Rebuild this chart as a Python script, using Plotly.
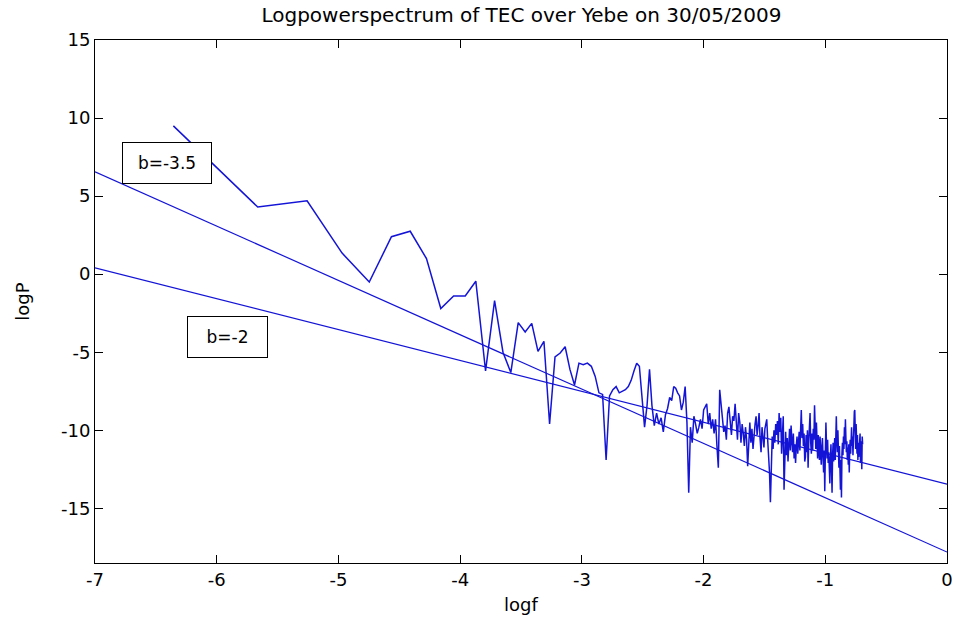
import numpy as np
import plotly.graph_objects as go

# ---- data -------------------------------------------------------------
# spectrum: FFT frequency index k = 1..288 of a 576-sample record
freq_index = list(range(1, 289))
record_length = 576

logP = [
    9.5, 4.3, 4.7, 1.35, -0.5, 2.4, 2.75, 1.0, -2.2, -1.4,
    -1.4, -0.45, -6.2, -1.7, -5.0, -6.3, -3.1, -3.7, -3.15, -4.95,
    -4.3, -9.6, -5.3, -5.05, -4.65, -6.1, -7.1, -5.7, -5.8, -5.7,
    -5.9, -6.55, -7.6, -7.7, -11.9, -7.8, -7.4, -7.2, -7.6, -7.5,
    -7.4, -7.2, -6.8, -6.2, -5.7, -5.9, -8.0, -9.8, -8.4, -6.1,
    -8.4, -9.7, -8.9, -9.6, -9.2, -10.1, -9.0, -8.6, -7.9, -8.1,
    -7.2, -7.3, -7.6, -7.8, -8.7, -8.2, -7.2, -9.5, -14.0, -9.8,
    -10.8, -9.1, -9.6, -10.2, -9.8, -9.3, -9.9, -8.7, -8.5, -8.3,
    -9.6, -8.9, -9.9, -9.3, -10.2, -9.3, -11.0, -12.4, -7.4, -8.6,
    -9.2, -10.1, -9.7, -10.6, -8.9, -8.5, -9.6, -10.3, -9.1, -9.4,
    -8.3, -9.8, -10.6, -8.9, -9.5, -10.8, -9.6, -10.2, -11.0, -9.8,
    -10.6, -12.3, -10.4, -9.5, -10.8, -9.9, -11.2, -10.1, -9.6, -9.1,
    -10.3, -9.7, -8.9, -10.5, -11.4, -9.8, -10.7, -11.1, -9.9, -9.5,
    -9.3, -10.6, -11.5, -12.7, -14.6, -11.8, -10.4, -11.2, -10.0, -10.8,
    -9.6, -10.3, -9.4, -10.9, -8.9, -10.1, -9.2, -11.5, -10.4, -9.1,
    -13.8, -11.2, -10.1, -11.6, -10.5, -12.0, -10.8, -9.9, -11.3, -9.7,
    -10.6, -11.4, -10.2, -11.8, -10.9, -12.1, -11.0, -10.4, -11.5, -10.8,
    -10.1, -11.3, -9.8, -8.7, -10.5, -9.6, -11.0, -10.2, -12.0, -11.7,
    -10.3, -11.4, -10.0, -12.4, -10.7, -9.6, -8.9, -10.8, -11.5, -10.2,
    -11.3, -9.9, -10.6, -8.4, -10.1, -11.2, -9.5, -10.7, -11.8, -10.3,
    -11.0, -11.9, -10.4, -11.6, -12.2, -11.1, -10.5, -11.7, -12.7, -11.3,
    -13.9, -11.5, -9.5, -10.9, -11.8, -10.6, -12.1, -11.4, -12.5, -13.4,
    -11.8, -10.9, -12.3, -14.0, -11.6, -10.8, -12.0, -11.2, -10.5, -11.9,
    -10.3, -9.1, -10.6, -11.4, -10.0, -11.7, -12.4, -11.0, -12.9, -13.8,
    -11.9, -14.3, -11.5, -10.8, -11.6, -10.4, -11.2, -9.8, -10.9, -9.3,
    -10.5, -11.4, -10.7, -11.9, -11.1, -12.2, -10.9, -12.7, -11.3, -10.6,
    -11.5, -10.2, -9.8, -11.0, -10.4, -11.6, -9.9, -10.8, -8.8, -8.7,
    -10.1, -11.2, -9.6, -10.7, -11.5, -10.3, -11.9, -10.8, -11.7, -10.5,
    -11.3, -10.2, -12.1, -10.7, -11.4, -12.5, -10.4, -10.9,
]

# fitted power-law lines (slope, intercept) in log-log space
fit_labels = ["b=-3.5", "b=-2"]
fit_slopes = [-3.48, -1.98]
fit_intercepts = [-17.8, -13.45]
fit_xrange = [-7, 0]

# annotation anchor points (data coords)
label_x = [-6.41, -5.91]
label_y = [7.15, -4.0]

x_ticks = [-7, -6, -5, -4, -3, -2, -1, 0]
y_ticks = [-15, -10, -5, 0, 5, 10, 15]

# ---- figure -----------------------------------------------------------
logf = np.log(np.array(freq_index) / record_length)
line_color = "rgb(20,20,215)"
FONT = "DejaVu Sans"

fig = go.Figure()
fig.add_trace(go.Scatter(x=logf, y=logP, mode="lines",
                         line=dict(color=line_color, width=1.5),
                         showlegend=False, hoverinfo="skip"))
for s, b in zip(fit_slopes, fit_intercepts):
    xs = np.array(fit_xrange, dtype=float)
    fig.add_trace(go.Scatter(x=xs, y=s * xs + b, mode="lines",
                             line=dict(color=line_color, width=1.2),
                             showlegend=False, hoverinfo="skip"))

box_w = [84, 75]
for txt, lx, ly, w in zip(fit_labels, label_x, label_y, box_w):
    fig.add_annotation(x=lx, y=ly, xref="x", yref="y", text=txt,
                       showarrow=False, bgcolor="white",
                       bordercolor="black", borderwidth=1, borderpad=2,
                       width=w, height=36,
                       font=dict(family=FONT, size=17, color="black"))

axis_common = dict(showline=True, linecolor="black", linewidth=1,
                   mirror="ticks", ticks="inside", ticklen=8,
                   tickcolor="black", showgrid=False, zeroline=False,
                   tickfont=dict(family=FONT, size=18, color="black"))

fig.update_xaxes(range=[-7, 0], tickvals=x_ticks,
                 ticktext=[str(v) for v in x_ticks],
                 title=dict(text="logf", font=dict(family=FONT, size=18, color="black"),
                            standoff=9),
                 **axis_common)
fig.update_yaxes(range=[-18.5, 15], tickvals=y_ticks,
                 ticktext=[str(v) for v in y_ticks],
                 title=dict(text="logP", font=dict(family=FONT, size=18, color="black"),
                            standoff=26),
                 **axis_common)

fig.update_layout(
    width=961, height=623,
    margin=dict(l=95, r=8, t=40, b=60),
    paper_bgcolor="white", plot_bgcolor="white",
    title=dict(text="Logpowerspectrum of TEC over Yebe on 30/05/2009",
               x=(95 + 948) / 2 / 961, xanchor="center",
               y=1 - 15 / 623, yanchor="middle",
               font=dict(family=FONT, size=20, color="black")),
)

fig.write_html("out.html")
